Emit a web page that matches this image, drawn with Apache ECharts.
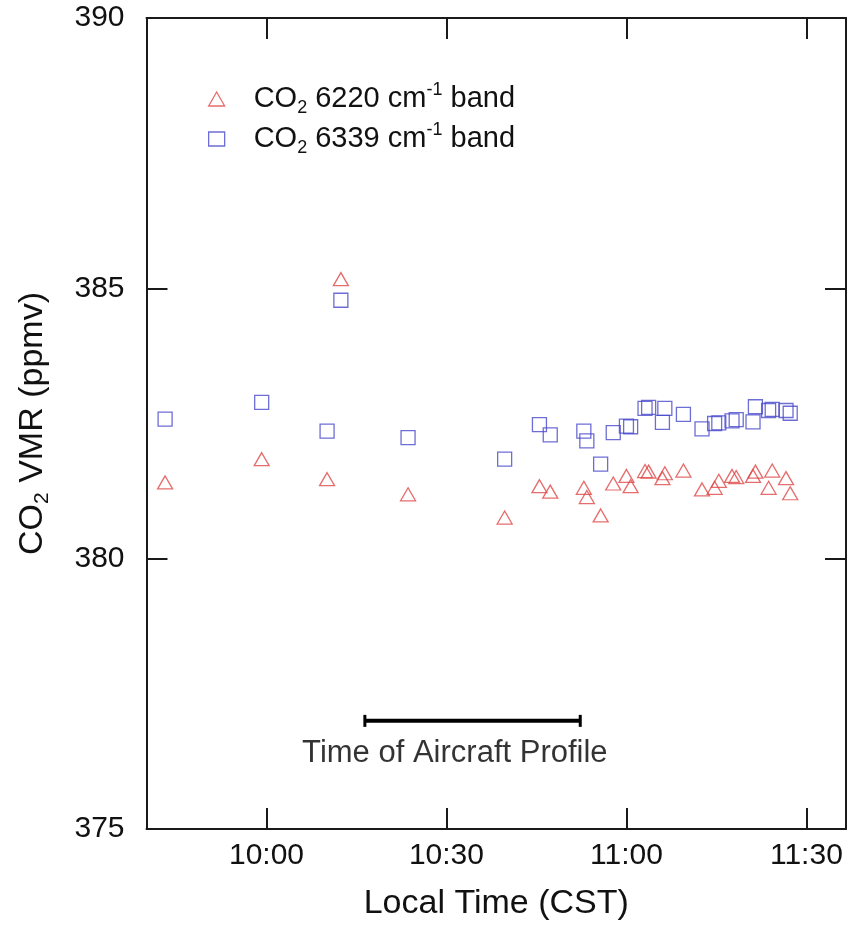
<!DOCTYPE html>
<html>
<head>
<meta charset="utf-8">
<script src="https://cdn.jsdelivr.net/npm/echarts@6/dist/echarts.min.js"></script>
<style>
html,body{margin:0;padding:0;background:#fff;}
#chart{width:858px;height:945px;}
</style>
</head>
<body>
<div id="chart"></div>
<script>
// Local time in minutes after midnight (CST)
var times = [583.1, 599.2, 610.1, 612.4, 623.6, 639.7, 645.5, 647.3, 652.9, 653.4,
             655.7, 657.8, 660.0, 660.7, 663.1, 663.7, 666.0, 666.4, 669.5, 672.6,
             674.7, 675.4, 677.6, 678.3, 681.1, 681.5, 683.7, 684.3, 686.6, 687.3];
// CO2 VMR (ppmv), 6220 cm-1 band
var band6220 = [381.41, 381.84, 381.47, 385.17, 381.19, 380.76, 381.34, 381.24, 381.31, 381.14,
                380.80, 381.39, 381.53, 381.34, 381.62, 381.61, 381.49, 381.58, 381.63, 381.28,
                381.31, 381.44, 381.53, 381.51, 381.53, 381.61, 381.31, 381.63, 381.49, 381.21];
// CO2 VMR (ppmv), 6339 cm-1 band
var band6339 = [382.58, 382.89, 382.36, 384.78, 382.24, 381.84, 382.48, 382.29, 382.36, 382.18,
                381.75, 382.33, 382.45, 382.44, 382.78, 382.80, 382.52, 382.78, 382.67, 382.40,
                382.50, 382.51, 382.55, 382.57, 382.53, 382.81, 382.74, 382.76, 382.74, 382.69];
// Aircraft profile time span and its plotting level
var aircraftSpan = [616.4, 652.3];
var aircraftLevel = 377;
var aircraftLabelTime = 631.4;
var xTicks = [600, 630, 660, 690];
var yTicks = [375, 380, 385, 390];
var xRange = [580, 696.6];
var yRange = [375, 390];
var seriesNames = ['CO2 6220', 'CO2 6339'];

var FONT = 'Liberation Sans, Arial, Helvetica, sans-serif';
var RED = '#e04848';
var BLUE = '#4848cc';
var AX = '#1a1a1a';
var TXT = '#111';

function fmtTime(v) {
  var h = Math.floor(v / 60), m = Math.round(v - h * 60);
  return h + ':' + (m < 10 ? '0' + m : m);
}
function pairs(xs, ys) { return xs.map(function (x, i) { return [x, ys[i]]; }); }

var legendLabels = {
  'CO2 6220': '{n|CO}{s|2}{n| 6220 cm}{p|-1}{n| band}',
  'CO2 6339': '{n|CO}{s|2}{n| 6339 cm}{p|-1}{n| band}'
};

var axisCommon = {
  axisLine: {show: true, onZero: false, lineStyle: {color: AX, width: 2}},
  splitLine: {show: false}
};

var option = {
  animation: false,
  backgroundColor: '#fff',
  textStyle: {fontFamily: FONT},
  grid: {left: 146.5, right: 12, top: 18, bottom: 116, containLabel: false},
  legend: {
    orient: 'vertical',
    left: 203, top: 76,
    itemWidth: 16, itemHeight: 14, itemGap: 4,
    data: [
      {name: seriesNames[0], icon: 'triangle', itemStyle: {color: 'rgba(0,0,0,0)', borderColor: RED, borderWidth: 1.3}},
      {name: seriesNames[1], icon: 'rect', itemStyle: {color: 'rgba(0,0,0,0)', borderColor: BLUE, borderWidth: 1.3}}
    ],
    formatter: function (n) { return legendLabels[n]; },
    textStyle: {
      fontFamily: FONT, color: TXT, padding: [0, 0, 0, 24],
      rich: {
        n: {fontSize: 29, lineHeight: 36, fontFamily: FONT, color: TXT},
        s: {fontSize: 18, lineHeight: 18, verticalAlign: 'bottom', fontFamily: FONT, color: TXT},
        p: {fontSize: 18, lineHeight: 18, verticalAlign: 'top', fontFamily: FONT, color: TXT}
      }
    }
  },
  xAxis: [
    Object.assign({
      type: 'value', position: 'bottom', min: xRange[0], max: xRange[1],
      name: 'Local Time (CST)', nameLocation: 'middle', nameGap: 58,
      nameTextStyle: {fontSize: 34, color: TXT, fontFamily: FONT},
      axisTick: {show: true, inside: true, length: 21, lineStyle: {color: AX, width: 2}, customValues: xTicks},
      axisLabel: {show: true, fontSize: 30, color: TXT, margin: 12, fontFamily: FONT,
                  customValues: xTicks, formatter: fmtTime}
    }, axisCommon),
    Object.assign({
      type: 'value', position: 'top', min: xRange[0], max: xRange[1],
      axisTick: {show: true, inside: true, length: 21, lineStyle: {color: AX, width: 2}, customValues: xTicks},
      axisLabel: {show: false}
    }, axisCommon)
  ],
  yAxis: [
    Object.assign({
      type: 'value', position: 'left', min: yRange[0], max: yRange[1], interval: 5,
      name: '{n|CO}{s|2}{n| VMR (ppmv)}', nameLocation: 'middle', nameGap: 94,
      nameTextStyle: {
        fontFamily: FONT, color: TXT,
        rich: {
          n: {fontSize: 34, lineHeight: 40, fontFamily: FONT, color: TXT},
          s: {fontSize: 21, lineHeight: 21, verticalAlign: 'bottom', fontFamily: FONT, color: TXT}
        }
      },
      axisTick: {show: true, inside: true, length: 21, lineStyle: {color: AX, width: 2}},
      axisLabel: {show: true, fontSize: 30, color: TXT, margin: 22, fontFamily: FONT, padding: [6, 0, 0, 0]}
    }, axisCommon),
    Object.assign({
      type: 'value', position: 'right', min: yRange[0], max: yRange[1], interval: 5,
      axisTick: {show: true, inside: true, length: 21, lineStyle: {color: AX, width: 2}},
      axisLabel: {show: false}
    }, axisCommon)
  ],
  series: [
    {
      name: seriesNames[0], type: 'scatter', xAxisIndex: 0, yAxisIndex: 0,
      symbol: 'triangle', symbolSize: [15, 13],
      itemStyle: {color: 'rgba(0,0,0,0)', borderColor: RED, borderWidth: 1.3},
      data: pairs(times, band6220), z: 3
    },
    {
      name: seriesNames[1], type: 'scatter', xAxisIndex: 0, yAxisIndex: 0,
      symbol: 'rect', symbolSize: 14,
      itemStyle: {color: 'rgba(0,0,0,0)', borderColor: BLUE, borderWidth: 1.3},
      data: pairs(times, band6339), z: 3
    },
    {
      name: 'aircraft', type: 'line', xAxisIndex: 0, yAxisIndex: 0,
      data: aircraftSpan.map(function (t) { return [t, aircraftLevel]; }),
      symbol: 'rect', symbolSize: [3, 12], showSymbol: true,
      itemStyle: {color: '#000'},
      lineStyle: {color: '#000', width: 4},
      silent: true, z: 2
    },
    {
      name: 'aircraftLabel', type: 'scatter', xAxisIndex: 0, yAxisIndex: 0,
      data: [[aircraftLabelTime, aircraftLevel]],
      symbolSize: 1, itemStyle: {color: 'rgba(0,0,0,0)'},
      label: {show: true, position: 'bottom', distance: 17, formatter: 'Time of Aircraft Profile',
              fontSize: 31, color: '#000', fontFamily: FONT},
      silent: true
    }
  ]
};

var chart = echarts.init(document.getElementById('chart'), null, {renderer: 'canvas'});
chart.setOption(option);
</script>
</body>
</html>
